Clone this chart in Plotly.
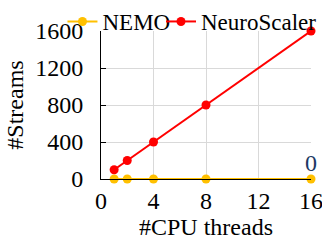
import plotly.graph_objects as go

threads = [1, 2, 4, 8, 16]
nemo = [0, 0, 0, 0, 0]
neuroscaler = [100, 200, 400, 800, 1600]
x_ticks = [0, 4, 8, 12, 16]
y_ticks = [0, 400, 800, 1200, 1600]

font = "'Liberation Serif', 'Times New Roman', 'DejaVu Serif', serif"
f24 = dict(family=font, size=24, color="black")
f23 = dict(family=font, size=23, color="black")
fig = go.Figure()
fig.add_trace(go.Scatter(x=threads, y=nemo, name="NEMO", mode="lines+markers",
                         line=dict(color="#FFC000", width=2), marker=dict(size=9, color="#FFC000"),
                         cliponaxis=False, legend="legend"))
fig.add_trace(go.Scatter(x=threads, y=neuroscaler, name="NeuroScaler", mode="lines+markers",
                         line=dict(color="#FF0000", width=2), marker=dict(size=9, color="#FF0000"),
                         cliponaxis=False, legend="legend2"))
fig.add_annotation(x=16, y=0, text="0", showarrow=False, yshift=16,
                   font=dict(family=font, size=24, color="#203864"))
leg = dict(orientation="h", xref="container",
           yref="container", y=1.0, yanchor="top",
           font=f23, itemwidth=30, bgcolor="rgba(0,0,0,0)")
fig.update_layout(
    width=322, height=244, margin=dict(l=101, r=11, t=31, b=65, autoexpand=False),
    paper_bgcolor="white", plot_bgcolor="white",
    font=f24,
    showlegend=True,
    legend=dict(leg, x=0.194, xanchor="left"),
    legend2=dict(leg, x=1.0, xanchor="right"),
    xaxis=dict(range=[0, 16], tickvals=x_ticks, showgrid=True, gridcolor="#D9D9D9",
               showline=True, linecolor="black", linewidth=1, zeroline=False, tickfont=f24,
               ticklabeloverflow="allow",
               title=dict(text="#CPU threads", standoff=0, font=f24), ticks="", automargin=False),
    yaxis=dict(range=[0, 1600], tickvals=y_ticks, showgrid=True, gridcolor="#D9D9D9",
               showline=True, linecolor="black", linewidth=1, zeroline=False, tickfont=f24,
               ticklabeloverflow="allow",
               title=dict(text="#Streams", standoff=4, font=f24), ticks="inside", ticklen=5,
               tickcolor="black", ticklabelstandoff=12, automargin=False),
)
fig.write_html("out.html", config={"displayModeBar": False},
               post_script="document.body.style.margin='0';")
